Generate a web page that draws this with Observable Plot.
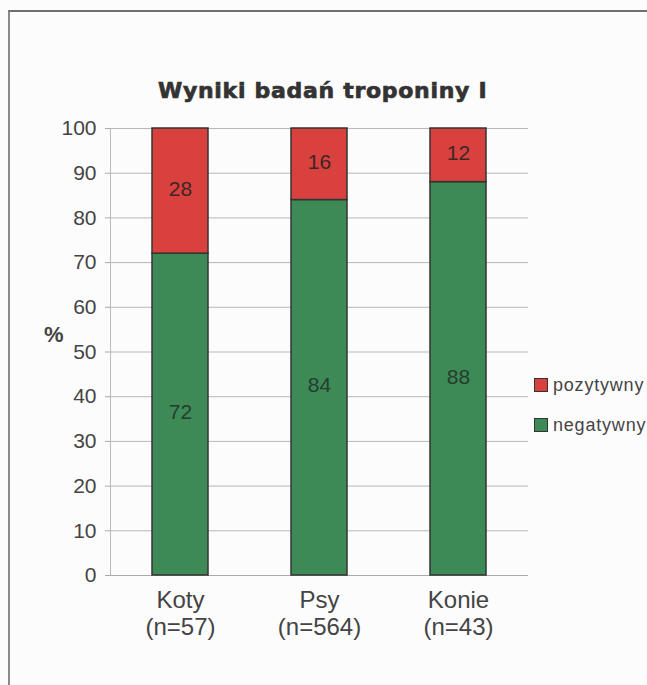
<!DOCTYPE html>
<html>
<head>
<meta charset="utf-8">
<script src="https://cdn.jsdelivr.net/npm/d3@7"></script>
<script src="https://cdn.jsdelivr.net/npm/@observablehq/plot@0.6"></script>
<style>
  html, body { margin: 0; padding: 0; background: #fcfcfc; }
  #page { position: relative; width: 647px; height: 685px; overflow: hidden; font-family: "Liberation Sans", Arial, sans-serif; }
  #frame { position: absolute; left: 8px; top: 10px; width: 700px; height: 700px; border-top: 2px solid #6f6f6f; border-left: 2px solid #8a8a8a; }
  #title { position: absolute; left: 158px; top: 78px; font-family: "DejaVu Sans", sans-serif; font-weight: bold; font-size: 22px; line-height: 25px; color: #333; letter-spacing: 0.7px; white-space: nowrap; -webkit-text-stroke: 0.7px #333; }
  #chart { position: absolute; left: 0; top: 0; }
  .leg { position: absolute; left: 534px; font-size: 18px; line-height: 20px; color: #444; white-space: nowrap; letter-spacing: 0.8px; }
  .sw { position: absolute; left: 0; top: 3px; width: 12px; height: 12px; border: 1px solid #333; }
  .lt { position: absolute; left: 19px; top: 0; }
  #pct { position: absolute; left: 44px; top: 322px; font-size: 22px; font-weight: bold; color: #444; }
</style>
</head>
<body>
<div id="page">
  <div id="frame"></div>
  <div id="chart"></div>
  <div id="title">Wyniki badań troponiny I</div>
  <div id="pct">%</div>
  <div class="leg" style="top:375px"><span class="sw" style="background:#d8413d"></span><span class="lt">pozytywny</span></div>
  <div class="leg" style="top:415px"><span class="sw" style="background:#3e8a57"></span><span class="lt">negatywny</span></div>
</div>
<script>
const categories = ["Koty", "Psy", "Konie"];
const counts = [57, 564, 43];
const negatywny = [72, 84, 88];
const pozytywny = [28, 16, 12];
const seriesNames = ["negatywny", "pozytywny"];
const seriesColors = ["#3e8a57", "#d8413d"];
const yTicks = [0, 10, 20, 30, 40, 50, 60, 70, 80, 90, 100];

const data = [];
categories.forEach((c, i) => {
  data.push({cat: c, series: "negatywny", value: negatywny[i]});
  data.push({cat: c, series: "pozytywny", value: pozytywny[i]});
});
const labelOf = Object.fromEntries(categories.map((c, i) => [c, `${c}\n(n=${counts[i]})`]));

const stackOpts = {x: "cat", y: "value", z: "series", order: seriesNames};

const chart = Plot.plot({
  width: 647,
  height: 685,
  marginTop: 128,
  marginBottom: 110,
  marginLeft: 110,
  marginRight: 119,
  style: {fontFamily: "Liberation Sans, Arial, sans-serif", background: "transparent", overflow: "visible"},
  x: {domain: categories, paddingInner: 0.6, paddingOuter: 0.3, axis: null},
  y: {domain: [0, 100], axis: null},
  color: {domain: seriesNames, range: seriesColors},
  marks: [
    Plot.gridY(yTicks, {stroke: "#b8b8b8", strokeOpacity: 1, strokeWidth: 1}),
    Plot.axisY(yTicks, {tickSize: 5, tickPadding: 9, fontSize: 21, fill: "#444", stroke: "#aaa", label: null}),
    Plot.ruleY([0], {stroke: "#aaa"}),
    Plot.barY(data, Plot.stackY({...stackOpts, fill: "series", stroke: "#333", strokeWidth: 1.5})),
    Plot.text(data, Plot.stackY({...stackOpts, text: d => String(d.value), fontSize: 21,
      fill: d => d.series === "pozytywny" ? "#3d2626" : "#253d2d",
      dy: -2})),
    Plot.axisX(categories, {tickSize: 0, tickPadding: 14, fontSize: 24, fill: "#444",
      tickFormat: d => labelOf[d], lineHeight: 1.1, lineAnchor: "top", label: null})
  ]
});
document.getElementById("chart").appendChild(chart);
// light vertical value-axis line
d3.select(chart).append("line")
  .attr("x1", 110.5).attr("x2", 110.5).attr("y1", 128).attr("y2", 575).attr("stroke", "#bbb");
</script>
</body>
</html>
